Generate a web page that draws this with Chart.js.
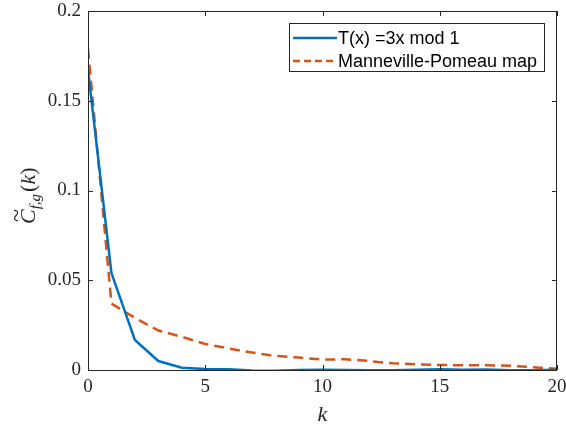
<!DOCTYPE html>
<html>
<head>
<meta charset="utf-8">
<script src="https://cdn.jsdelivr.net/npm/chart.js@4/dist/chart.umd.min.js"></script>
<style>
  html, body { margin: 0; padding: 0; background: #fff; }
  #wrap { width: 566px; height: 430px; position: relative; }
</style>
</head>
<body>
<div id="wrap"><canvas id="corr"></canvas></div>
<script>
// lag values and correlation decay for the two maps
const lags = [0, 1, 2, 3, 4, 5, 6, 7, 8, 9, 10, 11, 12, 13, 14, 15, 16, 17, 18, 19, 20];
const tripling = [0.167, 0.054, 0.0167, 0.005, 0.0013, 0.0005, 0.0004, -0.0003, -0.0004, 0.0000,
  0.0001, 0.0000, -0.0001, -0.0002, 0.0001, 0.0004, 0.0002, 0.0003, -0.0002, -0.0001, 0.0001];
const manneville = [0.179, 0.037, 0.029, 0.022, 0.0185, 0.0145, 0.012, 0.0097, 0.0078, 0.0069,
  0.0058, 0.006, 0.005, 0.0037, 0.0032, 0.0028, 0.0026, 0.0026, 0.0024, 0.0015, 0.0007];
const xTicks = [0, 5, 10, 15, 20];
const yTicks = [0, 0.05, 0.1, 0.15, 0.2];
const seriesNames = ['T(x) =3x mod 1', 'Manneville-Pomeau map'];

const BLUE = '#0072BD';
const ORANGE = '#D95319';
const AXIS = '#262626';
const SERIF = '"Liberation Serif", "DejaVu Serif", serif';

const toPoints = ys => lags.map((k, i) => ({ x: k, y: ys[i] }));

// box around the axes with inward ticks on all four sides
const boxAxes = {
  id: 'boxAxes',
  afterDatasetsDraw(chart) {
    const { ctx, chartArea: a, scales: { x, y } } = chart;
    ctx.save();
    ctx.strokeStyle = AXIS;
    ctx.lineWidth = 1;
    ctx.strokeRect(a.left + 0.5, a.top + 0.5, a.right - a.left - 1, a.bottom - a.top);
    ctx.beginPath();
    const t = 5;
    xTicks.forEach(v => {
      const px = Math.round(x.getPixelForValue(v)) + 0.5;
      ctx.moveTo(px, a.bottom); ctx.lineTo(px, a.bottom - t);
      ctx.moveTo(px, a.top); ctx.lineTo(px, a.top + t);
    });
    yTicks.forEach(v => {
      const py = Math.round(y.getPixelForValue(v)) + 0.5;
      ctx.moveTo(a.left, py); ctx.lineTo(a.left + t, py);
      ctx.moveTo(a.right, py); ctx.lineTo(a.right - t, py);
    });
    ctx.stroke();
    ctx.restore();
  }
};

// legend box in the upper right corner
const boxLegend = {
  id: 'boxLegend',
  afterDraw(chart) {
    const { ctx } = chart;
    const L = 289, T = 23, W = 255, H = 48;
    ctx.save();
    ctx.fillStyle = '#fff';
    ctx.fillRect(L, T, W, H);
    ctx.strokeStyle = AXIS;
    ctx.lineWidth = 1;
    ctx.strokeRect(L + 0.5, T + 0.5, W, H);
    const rows = [
      { y: 38, color: BLUE, dash: [] },
      { y: 61, color: ORANGE, dash: [7, 4] }
    ];
    ctx.font = '18px "Liberation Sans", Arial, sans-serif';
    ctx.textBaseline = 'middle';
    rows.forEach((r, i) => {
      ctx.beginPath();
      ctx.setLineDash(r.dash);
      ctx.strokeStyle = r.color;
      ctx.lineWidth = 2.5;
      ctx.moveTo(293, r.y); ctx.lineTo(337, r.y);
      ctx.stroke();
      ctx.setLineDash([]);
      ctx.fillStyle = '#000';
      ctx.fillText(seriesNames[i], 338, r.y + 1);
    });
    ctx.restore();
  }
};

// axis titles in LaTeX style
const axisTitles = {
  id: 'axisTitles',
  afterDraw(chart) {
    const { ctx, scales: { x } } = chart;
    ctx.save();
    ctx.fillStyle = AXIS;
    ctx.textBaseline = 'alphabetic';
    ctx.font = 'italic 22px ' + SERIF;
    ctx.textAlign = 'center';
    ctx.fillText('k', x.getPixelForValue(10), 421);

    // rotated \tilde{C}_{f,g}(k)
    ctx.translate(35, 224);
    ctx.rotate(-Math.PI / 2);
    ctx.textAlign = 'left';
    let cx = 0;
    ctx.font = 'italic 22px ' + SERIF;
    ctx.fillText('C', cx, 0);
    const cw = ctx.measureText('C').width;
    ctx.font = '24px ' + SERIF;
    ctx.fillText('~', cx + 2, -11);
    cx += cw;
    ctx.font = 'italic 15px ' + SERIF;
    ctx.fillText('f,g', cx, 5);
    cx += ctx.measureText('f,g').width + 2;
    ctx.font = '22px ' + SERIF;
    ctx.fillText('(', cx, 0);
    cx += ctx.measureText('(').width;
    ctx.font = 'italic 22px ' + SERIF;
    ctx.fillText('k', cx, 0);
    cx += ctx.measureText('k').width;
    ctx.font = '22px ' + SERIF;
    ctx.fillText(')', cx, 0);
    ctx.restore();
  }
};

new Chart(document.getElementById('corr'), {
  type: 'line',
  data: {
    datasets: [
      {
        label: seriesNames[0],
        data: toPoints(tripling),
        borderColor: BLUE,
        borderWidth: 2.5,
        pointRadius: 0,
        tension: 0,
        fill: false
      },
      {
        label: seriesNames[1],
        data: toPoints(manneville),
        borderColor: ORANGE,
        borderWidth: 2.5,
        borderDash: [10, 6],
        pointRadius: 0,
        tension: 0,
        fill: false
      }
    ]
  },
  options: {
    responsive: true,
    maintainAspectRatio: false,
    animation: false,
    layout: { padding: { top: 11, right: 9, left: 0, bottom: 0 } },
    plugins: { legend: { display: false }, tooltip: { enabled: false } },
    scales: {
      x: {
        type: 'linear',
        min: 0, max: 20,
        afterBuildTicks: s => { s.ticks = xTicks.map(v => ({ value: v })); },
        afterFit: s => { s.height = 60; s.paddingLeft = 0; s.paddingRight = 0; },
        grid: { display: false, drawTicks: false },
        border: { display: false },
        ticks: { color: AXIS, padding: 6, font: { family: SERIF, size: 19 }, maxRotation: 0 }
      },
      y: {
        type: 'linear',
        min: 0, max: 0.2,
        afterBuildTicks: s => { s.ticks = yTicks.map(v => ({ value: v })); },
        afterFit: s => { s.width = 88; s.paddingTop = 0; s.paddingBottom = 0; },
        grid: { display: false, drawTicks: false },
        border: { display: false },
        ticks: {
          color: AXIS, padding: 7, font: { family: SERIF, size: 19 },
          callback: v => String(+v.toFixed(2))
        }
      }
    }
  },
  plugins: [boxAxes, boxLegend, axisTitles]
});
</script>
</body>
</html>
